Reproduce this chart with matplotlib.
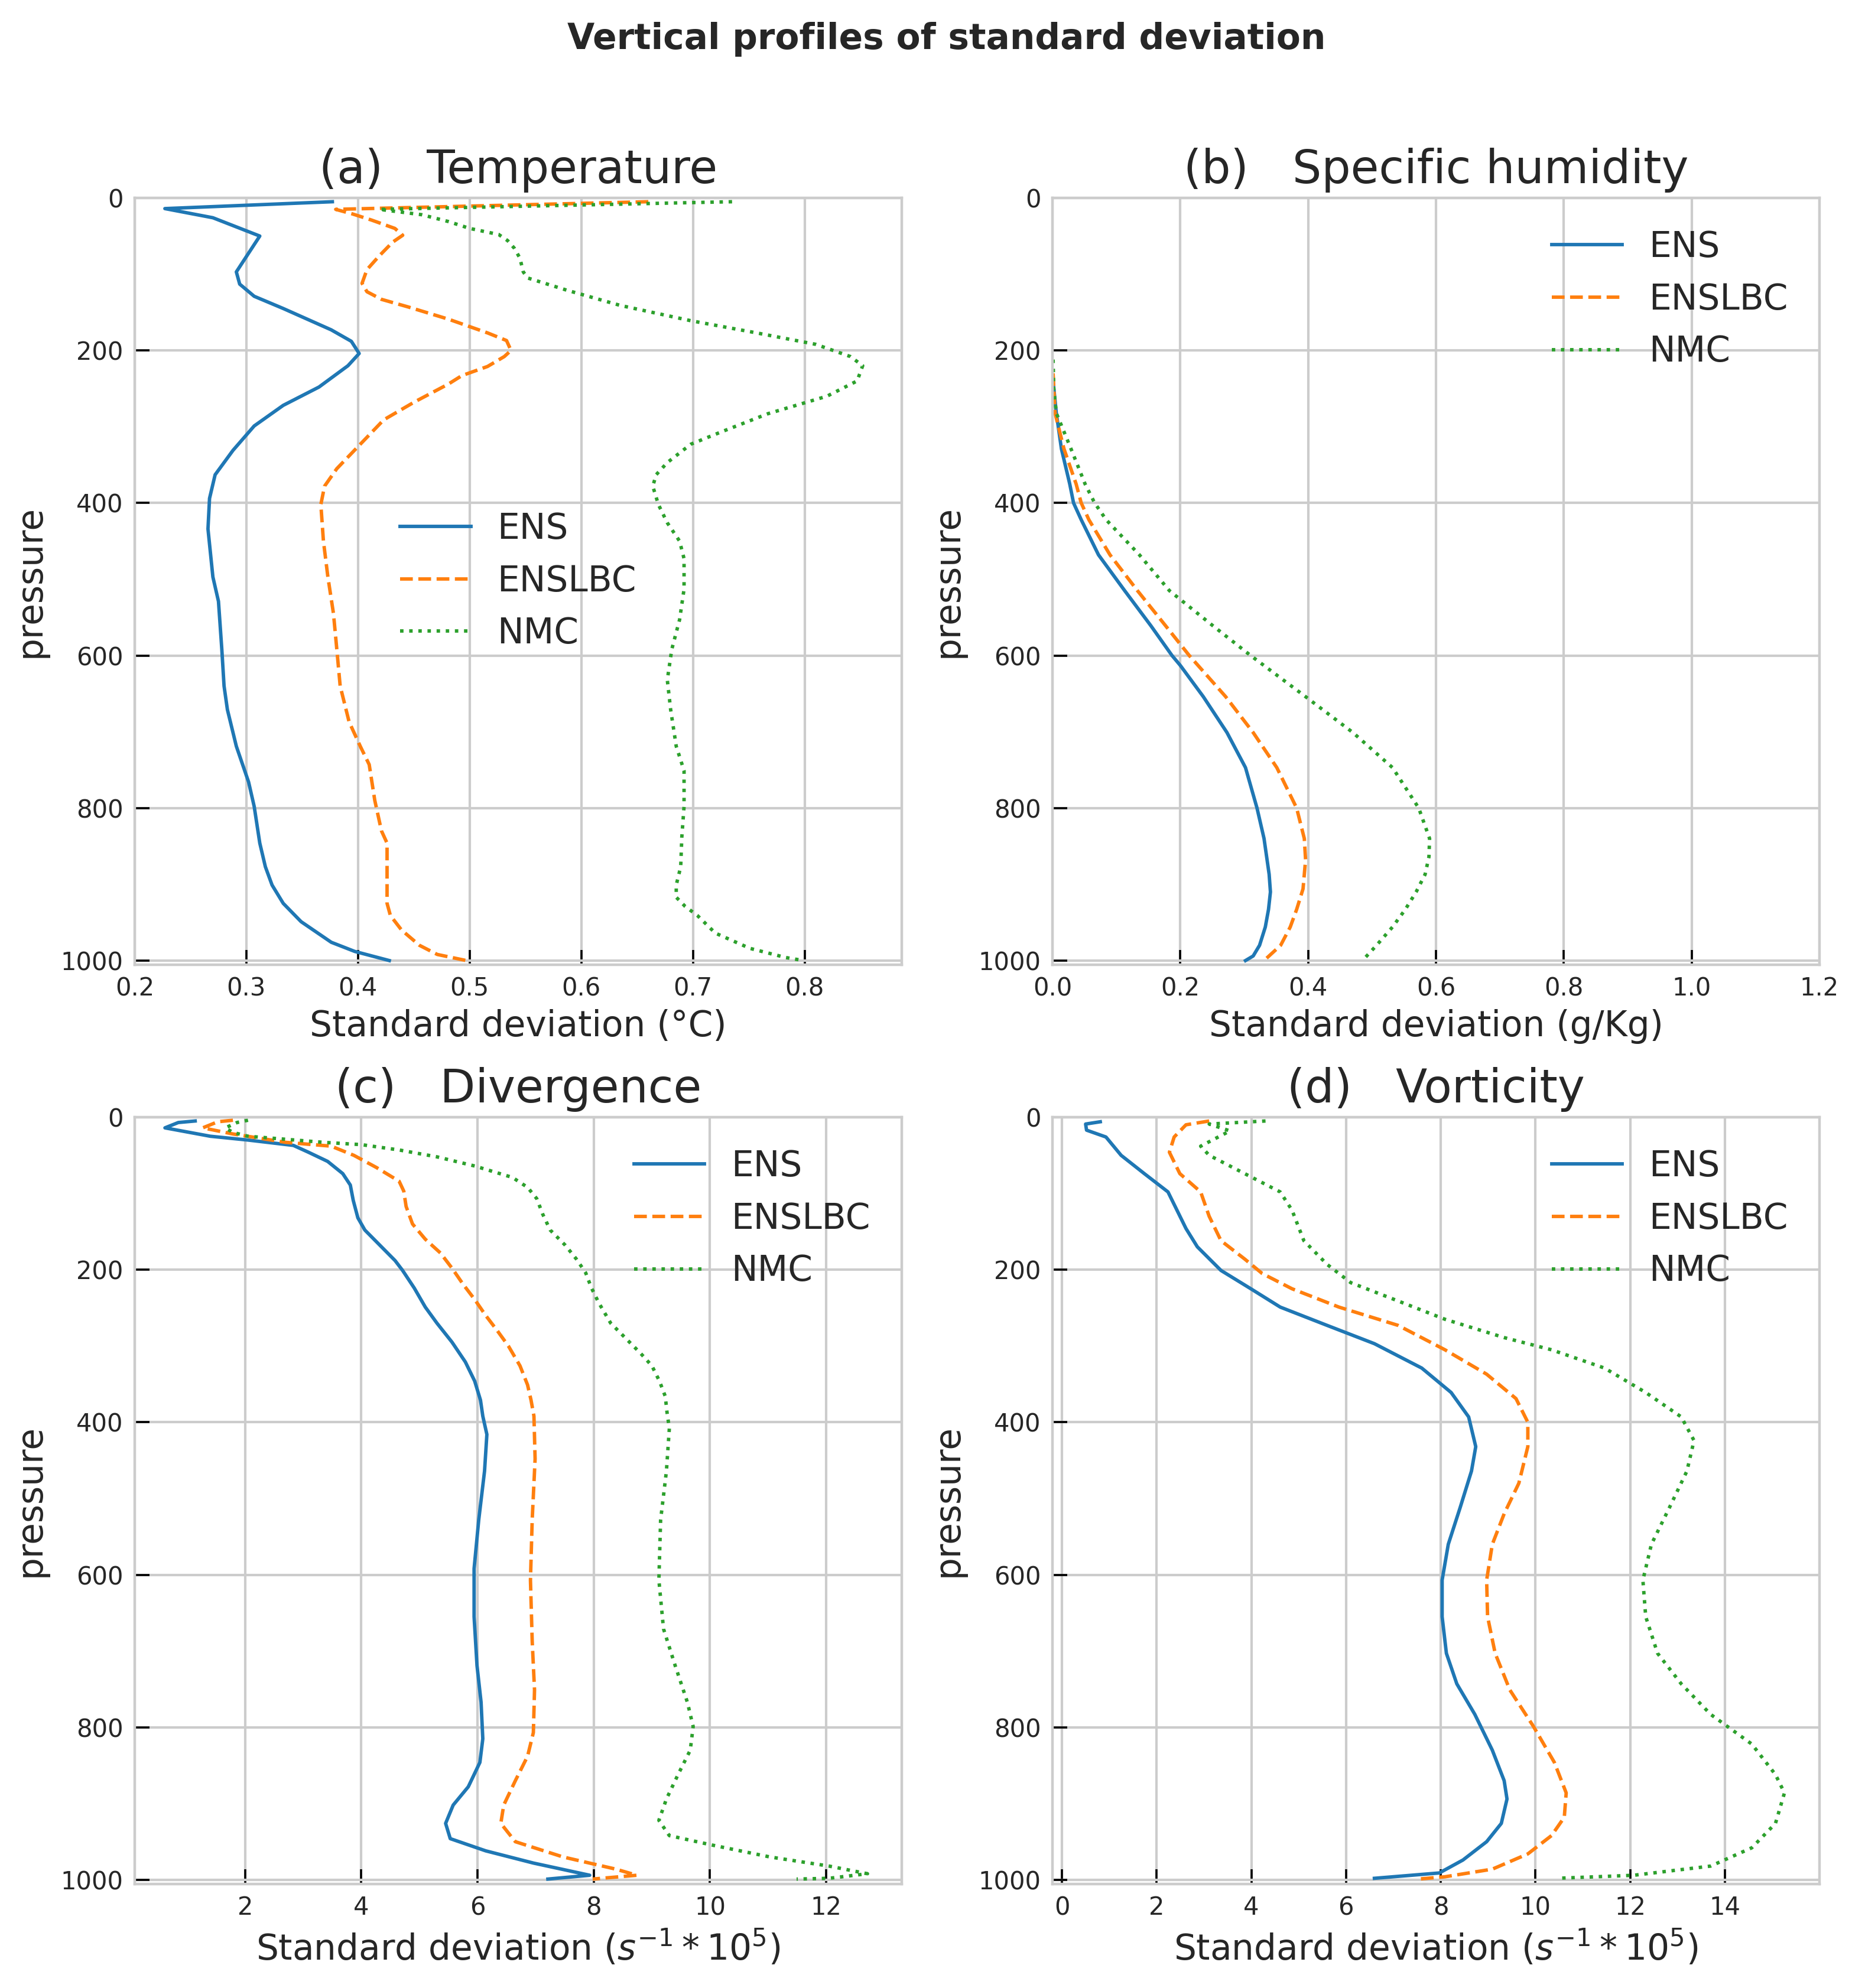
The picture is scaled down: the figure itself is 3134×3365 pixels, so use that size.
import matplotlib
matplotlib.use("Agg")
import matplotlib.pyplot as plt
import numpy as np

# ---------------- data ----------------
series_names = ["ENS", "ENSLBC", "NMC"]

# (a) Temperature
t_ens_p = [5, 14, 26, 50, 97, 113, 129, 145, 173, 188, 204, 220, 248, 272, 299, 331, 363, 394, 434,
           497, 529, 592, 640, 671, 719, 766, 798, 846, 877, 901, 925, 949, 976, 988, 1000]
t_ens_v = [0.377, 0.227, 0.27, 0.312, 0.291, 0.294, 0.307, 0.333, 0.376, 0.394, 0.401, 0.391, 0.365,
           0.333, 0.307, 0.288, 0.272, 0.267, 0.2656, 0.27, 0.275, 0.278, 0.280, 0.283, 0.291, 0.302,
           0.307, 0.312, 0.317, 0.323, 0.333, 0.349, 0.376, 0.397, 0.428]
t_lbc_p = [5, 15, 21, 29, 40, 49, 58, 76, 94, 112, 123, 133, 143, 159, 177, 187, 200, 208, 221, 233,
           244, 268, 291, 323, 355, 378, 402, 450, 497, 545, 592, 640, 687, 719, 743, 790, 830, 846,
           885, 925, 941, 960, 980, 992, 1000]
t_lbc_v = [0.66, 0.38, 0.395, 0.412, 0.433, 0.44, 0.431, 0.419, 0.408, 0.4036, 0.408, 0.421, 0.445,
           0.481, 0.516, 0.533, 0.537, 0.531, 0.516, 0.493, 0.481, 0.450, 0.423, 0.402, 0.381, 0.370,
           0.3667, 0.369, 0.373, 0.378, 0.381, 0.384, 0.392, 0.402, 0.410, 0.415, 0.421, 0.426, 0.426,
           0.426, 0.429, 0.439, 0.455, 0.471, 0.497]
t_nmc_p = [5, 15, 22, 31, 40, 48, 56, 66, 79, 97, 105, 121, 141, 161, 177, 192, 208, 220, 240, 260,
           283, 307, 323, 347, 363, 378, 402, 426, 450, 473, 513, 553, 592, 632, 671, 719, 751, 798,
           838, 877, 901, 917, 929, 941, 964, 984, 996, 1000]
t_nmc_v = [0.735, 0.419, 0.457, 0.481, 0.50, 0.526, 0.534, 0.540, 0.545, 0.548, 0.552, 0.587, 0.635,
           0.698, 0.757, 0.810, 0.841, 0.852, 0.847, 0.820, 0.767, 0.725, 0.698, 0.677, 0.667, 0.664,
           0.669, 0.677, 0.688, 0.692, 0.692, 0.688, 0.681, 0.677, 0.680, 0.685, 0.692, 0.692, 0.690,
           0.689, 0.685, 0.685, 0.693, 0.704, 0.720, 0.751, 0.783, 0.799]

# (b) Specific humidity
q_ens_p = [240, 282, 329, 375, 400, 422, 468, 515, 561, 600, 613, 654, 701, 747, 800, 840, 887, 910,
           933, 956, 980, 994, 1000]
q_ens_v = [0.001, 0.006, 0.014, 0.027, 0.033, 0.045, 0.072, 0.113, 0.154, 0.187, 0.200, 0.236, 0.273,
           0.302, 0.320, 0.331, 0.339, 0.341, 0.338, 0.333, 0.324, 0.314, 0.302]
q_lbc_p = [230, 282, 329, 375, 400, 422, 468, 515, 561, 600, 654, 701, 747, 800, 840, 868, 906, 933,
           956, 980, 1000]
q_lbc_v = [0.001, 0.004, 0.018, 0.037, 0.045, 0.057, 0.090, 0.133, 0.177, 0.214, 0.271, 0.314, 0.351,
           0.382, 0.394, 0.396, 0.392, 0.382, 0.372, 0.357, 0.331]
q_nmc_p = [212, 250, 282, 329, 375, 400, 422, 468, 515, 561, 600, 654, 701, 747, 800, 840, 864, 887,
           910, 933, 956, 980, 1000]
q_nmc_v = [0.001, 0.002, 0.006, 0.029, 0.051, 0.066, 0.084, 0.136, 0.183, 0.251, 0.310, 0.396, 0.470,
           0.532, 0.573, 0.590, 0.589, 0.583, 0.569, 0.552, 0.532, 0.507, 0.485]

# (c) Divergence
d_ens_p = [5, 7, 14, 25, 30, 37, 46, 58, 74, 89, 109, 132, 148, 168, 188, 201, 224, 249, 270, 295,
           321, 346, 371, 392, 416, 464, 528, 592, 655, 719, 767, 815, 846, 878, 902, 926, 946, 962,
           978, 994, 999]
d_ens_v = [1.14, 0.85, 0.62, 1.40, 2.05, 2.83, 3.09, 3.42, 3.68, 3.81, 3.86, 3.94, 4.06, 4.32, 4.58,
           4.71, 4.91, 5.10, 5.30, 5.56, 5.79, 5.95, 6.05, 6.09, 6.16, 6.12, 6.02, 5.94, 5.94, 5.99,
           6.06, 6.09, 6.04, 5.84, 5.58, 5.45, 5.53, 6.14, 6.96, 7.93, 7.21]
d_lbc_p = [4, 6, 14, 22, 33, 38, 50, 66, 84, 97, 117, 140, 160, 178, 198, 219, 239, 260, 280, 300,
           326, 351, 371, 392, 448, 528, 607, 687, 751, 807, 838, 870, 902, 926, 950, 970, 986, 994, 999]
d_lbc_v = [1.79, 1.53, 1.27, 1.79, 2.70, 3.48, 3.87, 4.26, 4.65, 4.73, 4.77, 4.88, 5.10, 5.36, 5.56,
           5.75, 5.95, 6.14, 6.34, 6.53, 6.73, 6.86, 6.92, 6.97, 6.99, 6.94, 6.91, 6.94, 6.98, 6.96,
           6.86, 6.65, 6.45, 6.40, 6.65, 7.47, 8.38, 8.74, 7.98]
d_nmc_p = [4, 7, 14, 20, 25, 33, 36, 43, 52, 64, 79, 92, 107, 127, 148, 168, 186, 204, 224, 244, 270,
           290, 310, 326, 346, 366, 387, 408, 464, 528, 607, 671, 719, 767, 799, 830, 862, 894, 922,
           942, 954, 970, 982, 992, 998, 999]
d_nmc_v = [2.05, 1.86, 1.66, 1.79, 2.05, 3.35, 4.0, 4.65, 5.30, 5.95, 6.60, 6.86, 7.02, 7.12, 7.25,
           7.51, 7.70, 7.86, 7.96, 8.09, 8.29, 8.55, 8.81, 9.0, 9.13, 9.23, 9.26, 9.30, 9.25, 9.15,
           9.12, 9.2, 9.4, 9.61, 9.71, 9.66, 9.45, 9.25, 9.12, 9.30, 10.01, 11.03, 12.05, 12.71,
           12.05, 11.49]

# (d) Vorticity
v_ens_p = [6, 9, 17, 26, 50, 74, 98, 122, 146, 170, 201, 225, 249, 273, 297, 329, 361, 393, 432, 464,
           512, 560, 607, 655, 703, 743, 783, 830, 870, 894, 926, 950, 974, 991, 998]
v_ens_v = [0.81, 0.5, 0.52, 0.93, 1.25, 1.74, 2.24, 2.43, 2.62, 2.86, 3.36, 3.99, 4.61, 5.6, 6.6, 7.6,
           8.22, 8.59, 8.74, 8.65, 8.41, 8.16, 8.03, 8.03, 8.12, 8.34, 8.72, 9.09, 9.34, 9.40, 9.28,
           8.97, 8.47, 7.97, 6.60]
v_lbc_p = [5, 10, 26, 46, 74, 98, 130, 162, 186, 205, 225, 249, 273, 305, 337, 369, 400, 432, 480, 520,
           560, 607, 655, 703, 751, 799, 846, 886, 918, 942, 966, 986, 996, 999]
v_lbc_v = [3.11, 2.62, 2.37, 2.27, 2.49, 2.93, 3.11, 3.36, 3.86, 4.23, 4.86, 5.85, 7.1, 8.09, 8.97,
           9.59, 9.84, 9.84, 9.65, 9.34, 9.09, 8.97, 8.99, 9.15, 9.46, 9.96, 10.40, 10.65, 10.61, 10.34,
           9.84, 9.09, 8.09, 7.53]
v_nmc_p = [5, 9, 18, 38, 50, 74, 98, 122, 162, 193, 217, 241, 265, 289, 305, 329, 361, 393, 424, 464,
           512, 560, 607, 655, 703, 743, 783, 822, 862, 886, 926, 958, 982, 994, 998]
v_nmc_v = [4.30, 3.11, 3.55, 2.93, 3.11, 3.86, 4.61, 4.86, 5.11, 5.60, 6.10, 7.1, 8.09, 9.34, 10.34,
           11.46, 12.33, 13.08, 13.35, 13.2, 12.83, 12.45, 12.27, 12.33, 12.58, 13.08, 13.70, 14.57,
           15.07, 15.26, 15.07, 14.57, 13.70, 12.08, 10.46]

panel_titles = ["(a)   Temperature", "(b)   Specific humidity", "(c)   Divergence", "(d)   Vorticity"]
x_labels = ["Standard deviation (°C)", "Standard deviation (g/Kg)",
            r"Standard deviation ($s^{-1} * 10^5$)", r"Standard deviation ($s^{-1} * 10^5$)"]
x_ticks = [[0.2, 0.3, 0.4, 0.5, 0.6, 0.7, 0.8],
           [0.0, 0.2, 0.4, 0.6, 0.8, 1.0, 1.2],
           [2, 4, 6, 8, 10, 12],
           [0, 2, 4, 6, 8, 10, 12, 14]]
x_tick_labels = [["0.2", "0.3", "0.4", "0.5", "0.6", "0.7", "0.8"],
                 ["0.0", "0.2", "0.4", "0.6", "0.8", "1.0", "1.2"],
                 ["2", "4", "6", "8", "10", "12"],
                 ["0", "2", "4", "6", "8", "10", "12", "14"]]
y_ticks = [0, 200, 400, 600, 800, 1000]
suptitle = "Vertical profiles of standard deviation"

panels = [
    [(t_ens_p, t_ens_v), (t_lbc_p, t_lbc_v), (t_nmc_p, t_nmc_v)],
    [(q_ens_p, q_ens_v), (q_lbc_p, q_lbc_v), (q_nmc_p, q_nmc_v)],
    [(d_ens_p, d_ens_v), (d_lbc_p, d_lbc_v), (d_nmc_p, d_nmc_v)],
    [(v_ens_p, v_ens_v), (v_lbc_p, v_lbc_v), (v_nmc_p, v_nmc_v)],
]

# ---------------- styling ----------------
plt.rcParams.update({
    "font.family": ["DejaVu Sans"],
    "text.color": "#262626",
    "axes.labelcolor": "#262626",
    "xtick.color": "black",
    "ytick.color": "black",
    "xtick.labelcolor": "#262626",
    "ytick.labelcolor": "#262626",
    "mathtext.fontset": "dejavusans",
})

colors = ["#1f77b4", "#ff7f0e", "#2ca02c"]
styles = ["-", "--", ":"]
xlims = [(0.2, 0.887), (0.0, 1.2), (0.10, 13.3), (-0.2, 16.0)]
legend_locs = ["center", "upper right", "upper right", "upper right"]

W, H, DPI = 3134, 3365, 200
fig = plt.figure(figsize=(W / DPI, H / DPI), dpi=DPI)

lefts = [228 / W, 1781 / W]
width = 1298 / W
tops = [335, 1891]
height = 1298 / H

for i in range(4):
    r, c = divmod(i, 2)
    bottom = 1 - (tops[r] + 1298) / H
    ax = fig.add_axes([lefts[c], bottom, width, height])
    ax.set_facecolor("white")
    for k, (p, v) in enumerate(panels[i]):
        ax.plot(v, p, color=colors[k], linestyle=styles[k], linewidth=2.1,
                label=series_names[k], solid_joinstyle="round")
    ax.set_xlim(*xlims[i])
    ax.set_ylim(1005.5, 0)
    ax.set_xticks(x_ticks[i])
    ax.set_xticklabels(x_tick_labels[i])
    ax.set_yticks(y_ticks)
    ax.grid(True, color="#cccccc", linewidth=1.5)
    ax.set_axisbelow(True)
    for s in ax.spines.values():
        s.set_color("#cccccc")
        s.set_linewidth(1.6)
    ax.tick_params(axis="both", direction="in", length=9, width=1.3,
                   labelsize=15, pad=7)
    ax.set_title(panel_titles[i], fontsize=28, pad=9)
    ax.set_xlabel(x_labels[i], fontsize=21.5, labelpad=5)
    ax.set_ylabel("pressure", fontsize=21.5, labelpad=8)
    ax.legend(loc=legend_locs[i], frameon=False, fontsize=21.5, handlelength=2.0,
              handletextpad=0.75)

fig.text(0.511, 1 - 83 / H, suptitle, fontsize=21.5, fontweight="bold",
         ha="center", va="baseline")

fig.savefig("out.png", dpi=DPI, facecolor="white")
